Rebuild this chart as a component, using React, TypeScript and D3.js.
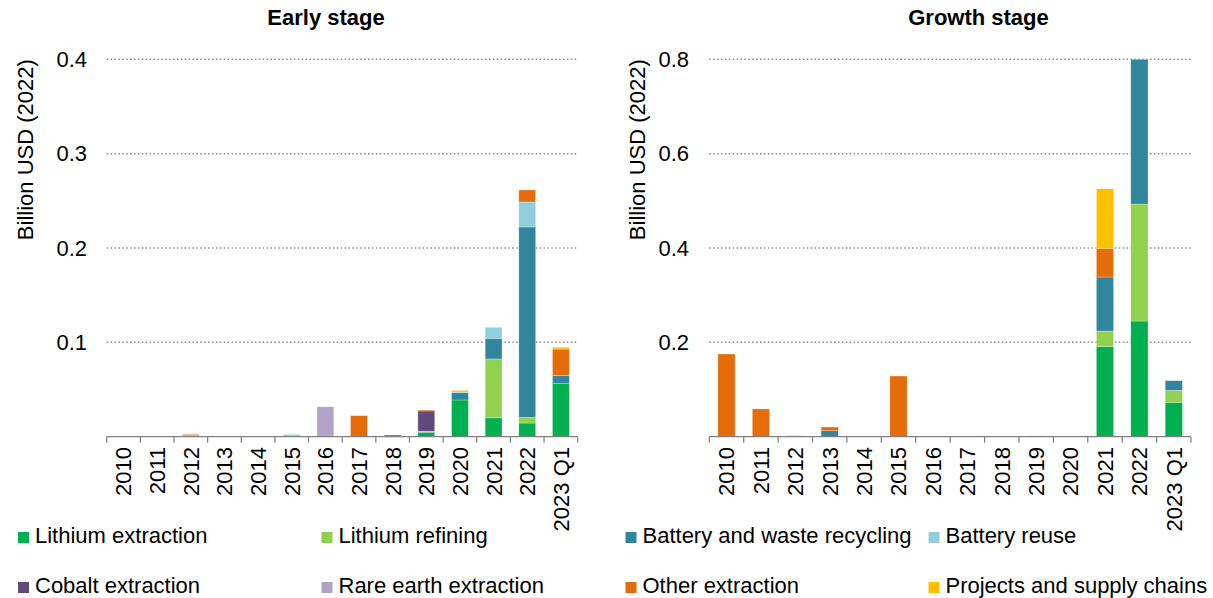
import React from "react";
import * as d3 from "d3";

const categories = ["2010", "2011", "2012", "2013", "2014", "2015", "2016", "2017", "2018", "2019", "2020", "2021", "2022", "2023 Q1"];

const seriesNames = [
  "Lithium extraction",
  "Lithium refining",
  "Battery and waste recycling",
  "Battery reuse",
  "Cobalt extraction",
  "Rare earth extraction",
  "Other extraction",
  "Projects and supply chains",
];
const seriesColors = ["#00B050", "#92D050", "#31859C", "#92CDDC", "#604A7B", "#B3A2C7", "#E46C0A", "#FFC000"];

// Early stage (billion USD 2022)
const earlyLithiumExtraction = [0, 0, 0, 0, 0, 0, 0, 0, 0.0018, 0.0045, 0.0389, 0.02, 0.0145, 0.0562];
const earlyLithiumRefining = [0, 0, 0, 0, 0, 0, 0, 0, 0, 0, 0, 0.0624, 0.006, 0];
const earlyBatteryRecycling = [0, 0, 0, 0, 0, 0.0015, 0.0007, 0, 0, 0.0008, 0.0077, 0.0219, 0.2018, 0.0088];
const earlyBatteryReuse = [0, 0, 0, 0, 0, 0.001, 0, 0, 0, 0.0005, 0.002, 0.0113, 0.0265, 0];
const earlyCobalt = [0, 0, 0.0008, 0, 0, 0, 0, 0, 0, 0.0215, 0, 0, 0, 0];
const earlyRareEarth = [0, 0, 0.0012, 0, 0, 0, 0.031, 0, 0, 0, 0, 0, 0, 0];
const earlyOther = [0, 0, 0.0008, 0, 0, 0, 0, 0.0223, 0, 0.001, 0, 0, 0.0127, 0.0279];
const earlyProjects = [0, 0, 0, 0, 0, 0, 0, 0, 0, 0, 0.0008, 0.0006, 0, 0.002];

// Growth stage (billion USD 2022)
const growthLithiumExtraction = [0, 0, 0, 0, 0, 0, 0, 0, 0, 0, 0, 0.1908, 0.2452, 0.0728];
const growthLithiumRefining = [0, 0, 0, 0, 0, 0, 0, 0, 0, 0, 0, 0.0332, 0.248, 0.0254];
const growthBatteryRecycling = [0, 0, 0, 0.0127, 0, 0, 0, 0, 0.0012, 0, 0, 0.1145, 0.3068, 0.0205];
const growthBatteryReuse = [0, 0, 0, 0, 0, 0, 0, 0, 0, 0.0018, 0, 0, 0, 0];
const growthCobalt = [0, 0, 0, 0, 0, 0, 0, 0, 0, 0, 0, 0, 0, 0];
const growthRareEarth = [0, 0, 0, 0, 0, 0, 0, 0, 0, 0, 0, 0, 0, 0];
const growthOther = [0.1753, 0.0587, 0.002, 0.0078, 0, 0.1286, 0.001, 0, 0, 0, 0, 0.06, 0, 0];
const growthProjects = [0, 0, 0, 0, 0, 0, 0, 0, 0, 0, 0, 0.127, 0, 0];

const earlyTicks = [0.1, 0.2, 0.3, 0.4];
const growthTicks = [0.2, 0.4, 0.6, 0.8];

const FONT = "'Liberation Sans', Arial, sans-serif";

function buildRows(series: number[][]) {
  return categories.map((c, i) => {
    const row: any = { cat: c };
    seriesNames.forEach((s, k) => (row[s] = series[k][i]));
    return row;
  });
}

type PanelProps = {
  title: string;
  titleX: number;
  series: number[][];
  yMax: number;
  ticks: number[];
  x0: number;
  x1: number;
  tickLabelX: number;
  axisTitleX: number;
  decimals: number;
};

function Panel(p: PanelProps) {
  const yBottom = 436.7;
  const yTop = 59.3;
  const x = d3.scaleBand<string>().domain(categories).range([p.x0, p.x1]).paddingInner(0.5).paddingOuter(0.25);
  const y = d3.scaleLinear().domain([0, p.yMax]).range([yBottom, yTop]);
  const rows = buildRows(p.series);
  const stacked = d3.stack<any>().keys(seriesNames)(rows);
  const step = x.step();
  const fmt = d3.format(`.${p.decimals}f`);
  return (
    <g>
      <text x={p.titleX} y={24.5} textAnchor="middle" fontFamily={FONT} fontWeight="bold" fontSize={22} fill="#000">
        {p.title}
      </text>
      <text
        transform={`translate(${p.axisTitleX},${(yTop + 238) / 2 + 1}) rotate(-90)`}
        textAnchor="middle"
        dy="0.35em"
        fontFamily={FONT}
        fontSize={22}
        fill="#000"
      >
        Billion USD (2022)
      </text>
      {p.ticks.map((t) => (
        <g key={t}>
          <line x1={p.x0} x2={p.x1} y1={y(t)} y2={y(t)} stroke="#8c8c8c" strokeWidth={1.5} strokeDasharray="1.5 2.4" />
          <text x={p.tickLabelX} y={y(t)} dy="0.35em" textAnchor="end" fontFamily={FONT} fontSize={22} fill="#000">
            {fmt(t)}
          </text>
        </g>
      ))}
      {stacked.map((layer, k) => (
        <g key={layer.key} fill={seriesColors[k]}>
          {layer.map((d, i) => {
            const h = y(d[0]) - y(d[1]);
            if (h <= 0) return null;
            return (
              <rect
                key={i}
                x={x(categories[i])!}
                width={x.bandwidth()}
                y={y(d[1])}
                height={h}
                stroke="#ffffff"
                strokeOpacity={0.45}
                strokeWidth={0.6}
              />
            );
          })}
        </g>
      ))}
      <line x1={p.x0} x2={p.x1} y1={yBottom} y2={yBottom} stroke="#7f7f7f" strokeWidth={1.2} />
      {d3.range(categories.length + 1).map((i) => (
        <line
          key={i}
          x1={p.x0 + i * step}
          x2={p.x0 + i * step}
          y1={yBottom}
          y2={yBottom + 6}
          stroke="#7f7f7f"
          strokeWidth={1.2}
        />
      ))}
      {categories.map((c) => (
        <text
          key={c}
          transform={`translate(${x(c)! + x.bandwidth() / 2},447) rotate(-90)`}
          textAnchor="end"
          dy="0.36em"
          fontFamily={FONT}
          fontSize={22}
          fill="#000"
        >
          {c}
        </text>
      ))}
    </g>
  );
}

const legendX = [18, 321.5, 625.5, 928.5];
const legendRowY = [532, 582];

export default function App() {
  const early = [earlyLithiumExtraction, earlyLithiumRefining, earlyBatteryRecycling, earlyBatteryReuse, earlyCobalt, earlyRareEarth, earlyOther, earlyProjects];
  const growth = [growthLithiumExtraction, growthLithiumRefining, growthBatteryRecycling, growthBatteryReuse, growthCobalt, growthRareEarth, growthOther, growthProjects];
  const legendOrder = [0, 1, 2, 3, 4, 5, 6, 7];
  return (
    <svg width={1213} height={598} style={{ position: "absolute", left: 0, top: 0, background: "#fff" }}>
      <rect width={1213} height={598} fill="#fff" />
      <Panel title="Early stage" titleX={326} series={early} yMax={0.4} ticks={earlyTicks} x0={106.7} x1={577.7} tickLabelX={87} axisTitleX={25} decimals={1} />
      <Panel title="Growth stage" titleX={978.5} series={growth} yMax={0.8} ticks={growthTicks} x0={709.3} x1={1191} tickLabelX={689} axisTitleX={637} decimals={1} />
      {legendOrder.map((k, idx) => {
        const col = idx % 4;
        const row = Math.floor(idx / 4);
        const lx = legendX[col];
        const ly = legendRowY[row];
        return (
          <g key={k}>
            <rect x={lx} y={ly} width={11} height={11} fill={seriesColors[k]} />
            <text x={lx + 17} y={ly + 10.5} fontFamily={FONT} fontSize={22} fill="#000">
              {seriesNames[k]}
            </text>
          </g>
        );
      })}
    </svg>
  );
}
